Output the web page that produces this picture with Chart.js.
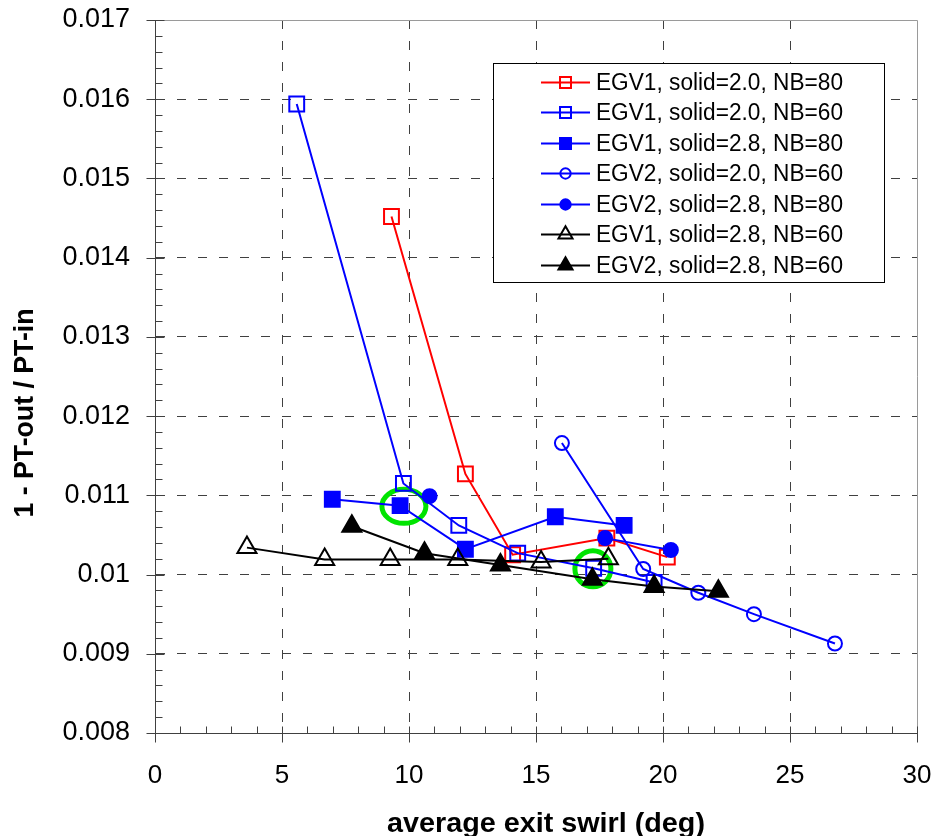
<!DOCTYPE html>
<html><head><meta charset="utf-8">
<script src="https://cdn.jsdelivr.net/npm/chart.js@4/dist/chart.umd.min.js"></script>
<style>html,body{margin:0;padding:0;background:#fff}canvas{display:block}</style>
</head><body>
<canvas id="c" width="934" height="836"></canvas>
<script>
// ---------- data ----------
const seriesLabels = [
  'EGV1, solid=2.0, NB=80',
  'EGV1, solid=2.0, NB=60',
  'EGV1, solid=2.8, NB=80',
  'EGV2, solid=2.0, NB=60',
  'EGV2, solid=2.8, NB=80',
  'EGV1, solid=2.8, NB=60',
  'EGV2, solid=2.8, NB=60'
];
const xEGV1_20_80 = [9.31, 12.22, 14.08, 17.79, 20.17];
const yEGV1_20_80 = [0.01452, 0.01127, 0.01025, 0.01046, 0.01022];
const xEGV1_20_60 = [5.58, 9.78, 11.96, 14.28, 17.27, 19.65];
const yEGV1_20_60 = [0.01594, 0.01115, 0.01062, 0.01027, 0.01008, 0.00990];
const xEGV1_28_80 = [6.98, 9.65, 12.22, 15.76, 18.47];
const yEGV1_28_80 = [0.01095, 0.01087, 0.01032, 0.01073, 0.01062];
const xEGV2_20_60 = [16.02, 19.22, 21.39, 23.58, 26.77];
const yEGV2_20_60 = [0.01166, 0.01007, 0.00977, 0.00950, 0.00913];
const xEGV2_28_80 = [10.81, null, 17.72, 20.31];      // null = gap in the line
const yEGV2_28_80 = [0.01099, null, 0.01046, 0.01031];
const xEGV1_28_60 = [3.62, 6.68, 9.26, 11.92, 15.20, 17.85];
const yEGV1_28_60 = [0.01034, 0.01019, 0.01019, 0.01019, 0.01016, 0.01020];
const xEGV2_28_60 = [7.75, 10.61, 13.60, 17.22, 19.65, 22.18];
const yEGV2_28_60 = [0.01061, 0.01027, 0.01012, 0.00994, 0.00985, 0.00979];

const xTickLabels = ['0', '5', '10', '15', '20', '25', '30'];
const yTickLabels = ['0.008', '0.009', '0.01', '0.011', '0.012', '0.013', '0.014', '0.015', '0.016', '0.017'];
const xTitle = 'average exit swirl (deg)';
const yTitle = '1 - PT-out / PT-in';

// highlighted points (green rings), in data units
const highlightX = [9.80, 17.24];
const highlightY = [0.010861, 0.010072];

// ---------- styles ----------
const FONT = "'Liberation Sans', Arial, Helvetica, sans-serif";
const RED = '#ff0000', BLUE = '#0000ff', BLACK = '#000000';
const NONE = 'rgba(0,0,0,0)';
const AX = '#404040';
const hlRx = [22, 18], hlRy = [17, 18];
const X_MIN = 0, X_MAX = 30, X_STEP = 5, X_MINOR = 1;
const Y_MIN = 0.008, Y_MAX = 0.017, Y_STEP = 0.001, Y_MINOR = 0.0002;

function mk(i, xs, ys, color, style, filled, radius) {
  return {
    label: seriesLabels[i],
    data: xs.map((v, k) => ({x: v, y: ys[k]})),
    showLine: true, spanGaps: false, tension: 0,
    borderColor: color, backgroundColor: color, borderWidth: 2,
    pointStyle: style, pointRadius: radius, pointHoverRadius: radius,
    pointBorderColor: color, pointBackgroundColor: filled ? color : NONE,
    pointBorderWidth: 2,
    order: 10 - i
  };
}

const datasets = [
  mk(0, xEGV1_20_80, yEGV1_20_80, RED, 'rect', false, 10.5),
  mk(1, xEGV1_20_60, yEGV1_20_60, BLUE, 'rect', false, 10.5),
  mk(2, xEGV1_28_80, yEGV1_28_80, BLUE, 'rect', true, 10.5),
  mk(3, xEGV2_20_60, yEGV2_20_60, BLUE, 'circle', false, 7),
  mk(4, xEGV2_28_80, yEGV2_28_80, BLUE, 'circle', true, 7),
  mk(5, xEGV1_28_60, yEGV1_28_60, BLACK, 'triangle', false, 11),
  mk(6, xEGV2_28_60, yEGV2_28_60, BLACK, 'triangle', true, 11)
];

function fitText(ctx, text, x, y, width) {
  const w = ctx.measureText(text).width;
  ctx.save();
  ctx.translate(x, y);
  ctx.scale(width / w, 1);
  ctx.fillText(text, 0, 0);
  ctx.restore();
}

const decor = {
  id: 'decor',
  beforeDatasetsDraw(chart) {
    const {ctx, chartArea: a, scales: {x, y}} = chart;
    ctx.save();
    // top & right frame
    ctx.strokeStyle = '#9a9a9a'; ctx.lineWidth = 1;
    ctx.beginPath();
    ctx.moveTo(a.left, Math.round(a.top) + 0.5);
    ctx.lineTo(Math.round(a.right) + 0.5, Math.round(a.top) + 0.5);
    ctx.lineTo(Math.round(a.right) + 0.5, a.bottom);
    ctx.stroke();
    // tick marks
    ctx.strokeStyle = AX; ctx.lineWidth = 1;
    ctx.beginPath();
    const nx = Math.round((X_MAX - X_MIN) / X_MINOR);
    const per = Math.round(X_STEP / X_MINOR);
    const yb = Math.round(a.bottom) + 0.5;
    for (let i = 0; i <= nx; i++) {
      const px = Math.round(x.getPixelForValue(X_MIN + i * X_MINOR)) + 0.5;
      if (i % per === 0) { ctx.moveTo(px, yb - 7); ctx.lineTo(px, yb + 9); }
      else { ctx.moveTo(px, yb); ctx.lineTo(px, yb - 7); }
    }
    const ny = Math.round((Y_MAX - Y_MIN) / Y_MINOR);
    const pery = Math.round(Y_STEP / Y_MINOR);
    const xl = Math.round(a.left) + 0.5;
    for (let i = 0; i <= ny; i++) {
      const py = Math.round(y.getPixelForValue(Y_MIN + i * Y_MINOR)) + 0.5;
      if (i % pery === 0) { ctx.moveTo(xl - 9, py); ctx.lineTo(xl + 9, py); }
      else { ctx.moveTo(xl, py); ctx.lineTo(xl + 7, py); }
    }
    ctx.stroke();
    // green highlight rings
    ctx.strokeStyle = '#00e400'; ctx.lineWidth = 5;
    for (let i = 0; i < highlightX.length; i++) {
      ctx.beginPath();
      ctx.ellipse(x.getPixelForValue(highlightX[i]), y.getPixelForValue(highlightY[i]),
                  hlRx[i], hlRy[i], 0, 0, Math.PI * 2);
      ctx.stroke();
    }
    ctx.restore();
  },
  afterDatasetsDraw(chart) {
    const {ctx} = chart;
    ctx.save();
    // axis titles
    ctx.fillStyle = '#000';
    ctx.textAlign = 'center'; ctx.textBaseline = 'alphabetic';
    ctx.font = 'bold 27px ' + FONT;
    fitText(ctx, xTitle, 546, 832, 318);
    ctx.save();
    ctx.translate(33, 413);
    ctx.rotate(-Math.PI / 2);
    ctx.font = 'bold 27px ' + FONT;
    fitText(ctx, yTitle, 0, 0, 209);
    ctx.restore();

    // legend
    const L = 493.5, T = 63.5, R = 884.5, B = 282.5;
    ctx.fillStyle = '#fff';
    ctx.fillRect(L, T, R - L, B - T);
    ctx.strokeStyle = '#000'; ctx.lineWidth = 1;
    ctx.strokeRect(L, T, R - L, B - T);
    const rowH = (265 - 81.7) / 6;
    chart.data.datasets.forEach((ds, i) => {
      const cy = Math.round(81.7 + i * rowH) + 0.5;
      ctx.strokeStyle = ds.borderColor; ctx.lineWidth = 2;
      ctx.beginPath(); ctx.moveTo(541, cy); ctx.lineTo(590, cy); ctx.stroke();
      ctx.fillStyle = ds.pointBackgroundColor; ctx.strokeStyle = ds.pointBorderColor;
      ctx.lineWidth = 2;
      Chart.helpers.drawPoint(ctx, {pointStyle: ds.pointStyle, radius: ds.pointRadius * 0.74,
        borderWidth: 2, rotation: 0}, 565.5, cy);
      ctx.fillStyle = '#000';
      ctx.font = '23px ' + FONT;
      ctx.textAlign = 'left'; ctx.textBaseline = 'middle';
      ctx.fillText(ds.label, 596, cy + 1, 247);
    });
    ctx.restore();
  }
};

const gridColor = (n) => (c) => (c.index === 0 || c.index === n - 1) ? NONE : AX;

new Chart(document.getElementById('c'), {
  type: 'scatter',
  data: {datasets},
  options: {
    responsive: false, animation: false, devicePixelRatio: 1,
    layout: {padding: {top: 20, right: 17, left: 0, bottom: 0}},
    plugins: {legend: {display: false}, tooltip: {enabled: false}},
    scales: {
      x: {
        type: 'linear', min: X_MIN, max: X_MAX,
        ticks: {stepSize: X_STEP, autoSkip: false, maxRotation: 0, color: '#000',
                font: {family: FONT, size: 26}, padding: 27,
                callback: (v, i) => xTickLabels[i]},
        grid: {drawTicks: false, lineWidth: 1, color: gridColor(xTickLabels.length)},
        border: {display: true, color: AX, width: 1, dash: [9, 12]},
        title: {display: false},
        afterFit: (s) => { s.height = 103; s.paddingLeft = 0; s.paddingRight = 0; }
      },
      y: {
        type: 'linear', min: Y_MIN, max: Y_MAX,
        ticks: {stepSize: Y_STEP, autoSkip: false, color: '#000',
                font: {family: FONT, size: 27}, padding: 25,
                callback: (v, i) => yTickLabels[i]},
        grid: {drawTicks: false, lineWidth: 1, color: gridColor(yTickLabels.length)},
        border: {display: true, color: AX, width: 1, dash: [9, 12]},
        title: {display: false},
        afterFit: (s) => { s.width = 155; s.paddingTop = 0; s.paddingBottom = 0; }
      }
    }
  },
  plugins: [decor]
});
</script>
</body></html>
